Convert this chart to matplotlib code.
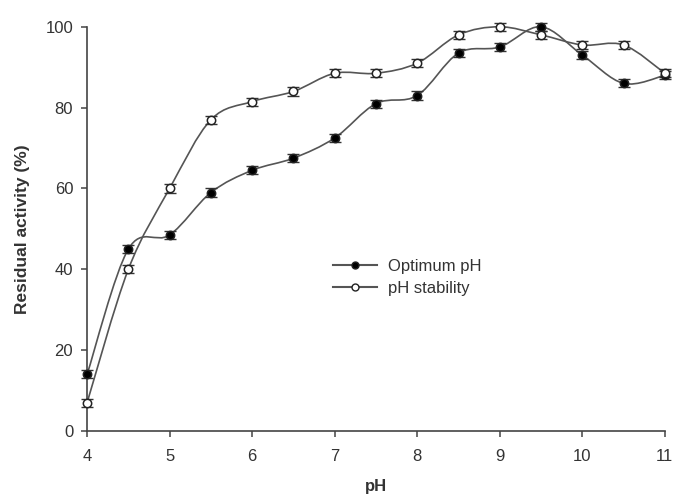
import numpy as np
import matplotlib.pyplot as plt
from matplotlib.path import Path
from matplotlib.patches import PathPatch

plt.rcParams['font.family'] = ['Liberation Sans', 'DejaVu Sans']

# Datos
ph = [4, 4.5, 5, 5.5, 6, 6.5, 7, 7.5, 8, 8.5, 9, 9.5, 10, 10.5, 11]
optimum = [14, 45, 48.5, 59, 64.5, 67.5, 72.5, 81, 83, 93.5, 95, 100, 93, 86, 88]
stability = [7, 40, 60, 77, 81.5, 84, 88.5, 88.5, 91, 98, 100, 98, 95.5, 95.5, 88.5]
err_opt = [1, 1, 1, 1, 1, 1, 1, 1, 1, 1, 1, 1, 1, 1, 1]
err_stab = [1, 1, 1, 1, 1, 1, 1, 1, 1, 1, 1, 1, 1, 1, 1]

line_col = '#555555'
text_col = '#333333'


def smooth_path(x, y):
    # curva tipo Catmull-Rom dibujada con Bezier cubicas
    x = np.asarray(x, float)
    y = np.asarray(y, float)
    verts = [(x[0], y[0])]
    codes = [Path.MOVETO]
    n = len(x)
    for i in range(n - 1):
        p0 = (x[max(i - 1, 0)], y[max(i - 1, 0)])
        p1 = (x[i], y[i])
        p2 = (x[i + 1], y[i + 1])
        p3 = (x[min(i + 2, n - 1)], y[min(i + 2, n - 1)])
        t = 0.5 / 3
        c1 = (p1[0] + (p2[0] - p0[0]) * t, p1[1] + (p2[1] - p0[1]) * t)
        c2 = (p2[0] - (p3[0] - p1[0]) * t, p2[1] - (p3[1] - p1[1]) * t)
        verts += [c1, c2, p2]
        codes += [Path.CURVE4] * 3
    return Path(verts, codes)


fig = plt.figure(figsize=(6.75, 4.96), dpi=100)
ax = fig.add_axes([0.129, 0.131, 0.856, 0.815])

for yv, ev, fc in [(optimum, err_opt, 'black'), (stability, err_stab, 'white')]:
    ax.add_patch(PathPatch(smooth_path(ph, yv), fill=False, edgecolor=line_col,
                           lw=1.2, zorder=2, clip_on=False))
    ax.errorbar(ph, yv, yerr=ev, fmt='none', ecolor='#333333', elinewidth=1,
                capsize=4, capthick=1, zorder=3, clip_on=False)
    ax.plot(ph, yv, 'o', ms=6, mfc=fc, mec='#222222', mew=1.1, zorder=4,
            clip_on=False)

# leyenda
h1, = ax.plot([], [], '-o', color=line_col, ms=5, mfc='black', mec='#222222')
h2, = ax.plot([], [], '-o', color=line_col, ms=5, mfc='white', mec='#222222')
ax.legend([h1, h2], ['Optimum pH', 'pH stability'], frameon=False,
          loc='center left', bbox_to_anchor=(0.4, 0.38), fontsize=12,
          handlelength=2.6, handletextpad=0.7, labelcolor=text_col,
          labelspacing=0.4)

ax.set_xlim(4, 11)
ax.set_ylim(0, 100)
ax.set_xticks(range(4, 12))
ax.set_yticks(range(0, 101, 20))
ax.spines['top'].set_visible(False)
ax.spines['right'].set_visible(False)
for s in ['left', 'bottom']:
    ax.spines[s].set_color('#444444')
    ax.spines[s].set_linewidth(1.2)
ax.tick_params(colors='#444444', labelcolor=text_col, labelsize=12, length=4,
               width=1.1)
ax.tick_params(axis='x', pad=9)
ax.tick_params(axis='y', pad=6)
ax.set_xlabel('pH', fontsize=12, fontweight='bold', color=text_col, labelpad=11)
ax.set_ylabel('Residual activity (%)', fontsize=12.5, fontweight='bold',
              color=text_col, labelpad=11)

fig.savefig('out.png', dpi=100)
